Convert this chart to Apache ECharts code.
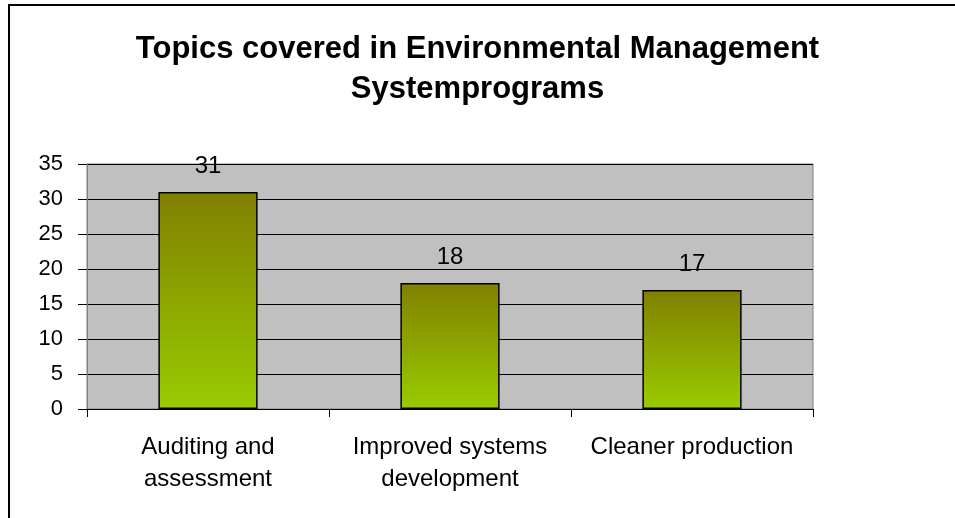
<!DOCTYPE html>
<html><head><meta charset="utf-8">
<script src="https://cdn.jsdelivr.net/npm/echarts@6/dist/echarts.min.js"></script>
<style>html,body{margin:0;padding:0;background:#fff}#c{width:955px;height:518px}</style>
</head><body><div id="c"></div>
<script>
var titleText = 'Topics covered in Environmental Management\nSystemprograms';
var categories = ['Auditing and\nassessment', 'Improved systems\ndevelopment', 'Cleaner production'];
var values = [31, 18, 17];
var yTicks = {min: 0, max: 35, interval: 5};

var chart = echarts.init(document.getElementById('c'));
chart.setOption({
  animation: false,
  backgroundColor: '#ffffff',
  textStyle: {fontFamily: 'Liberation Sans, Arial, sans-serif'},
  title: {
    text: titleText, left: 'center', top: 24,
    textStyle: {fontSize: 31, fontWeight: 'bold', color: '#000', lineHeight: 40, fontFamily: 'Liberation Sans, Arial, sans-serif'}
  },
  graphic: [{type: 'rect', shape: {x: 9, y: 5, width: 960, height: 530}, style: {fill: 'none', stroke: '#000', lineWidth: 2}, silent: true}],
  grid: {left: 87, right: 142, top: 164, bottom: 109, show: true, backgroundColor: '#C0C0C0', borderColor: '#808080', borderWidth: 1},
  xAxis: {
    type: 'category', data: categories,
    axisLine: {show: true, lineStyle: {color: '#000', width: 1}},
    axisTick: {show: true, length: 8, lineStyle: {color: '#000'}},
    axisLabel: {color: '#000', fontSize: 24, lineHeight: 32, margin: 22, interval: 0}
  },
  yAxis: {
    type: 'value', min: yTicks.min, max: yTicks.max, interval: yTicks.interval,
    axisLine: {show: true, lineStyle: {color: '#808080', width: 1}},
    axisTick: {show: true, length: 9, lineStyle: {color: '#000'}},
    axisLabel: {color: '#000', fontSize: 22, margin: 24},
    splitLine: {show: true, lineStyle: {color: '#000', width: 1}}
  },
  series: [{
    type: 'bar', data: values, barWidth: '41%',
    itemStyle: {
      color: new echarts.graphic.LinearGradient(0, 0, 0, 1, [{offset: 0, color: '#808000'}, {offset: 1, color: '#99CC00'}]),
      borderColor: '#000', borderWidth: 1.5
    },
    label: {show: true, position: 'top', distance: 14, color: '#000', fontSize: 24}
  }]
});
</script></body></html>
